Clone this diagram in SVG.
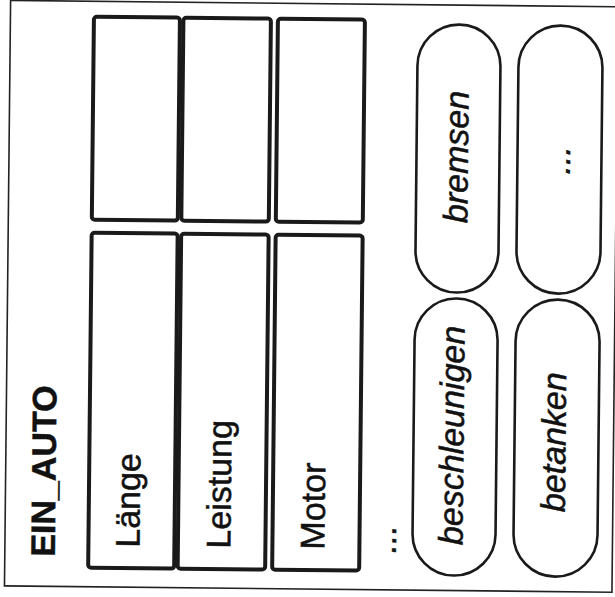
<svg xmlns="http://www.w3.org/2000/svg" width="615" height="597" viewBox="0 0 615 597">
<style>
  .frame{fill:none;stroke:#222;stroke-width:1.6}
  .attr{fill:#fff;stroke:#1a1a1a;stroke-width:4}
  .meth{fill:#fff;stroke:#1a1a1a;stroke-width:2.6}
  text{font-family:"Liberation Sans",Arial,sans-serif;font-size:34px;fill:#111;stroke:#111;stroke-width:0.5}
  .title{font-weight:bold}
  .it{font-style:italic}
</style>
<rect width="615" height="597" fill="#fff"/>
<g transform="rotate(0.6 307 298)">
  <g id="ein_auto">
    <rect class="frame" x="7.5" y="3.5" width="607.5" height="585.5"/>
    <text class="title" transform="translate(57.5 559.5) rotate(-90)">EIN_AUTO</text>
  </g>
  <g id="attr_top_1"><rect class="attr" x="91" y="19" width="86" height="203" rx="3"/></g>
  <g id="attr_top_2"><rect class="attr" x="180.5" y="19" width="87.5" height="203" rx="3"/></g>
  <g id="attr_top_3"><rect class="attr" x="275" y="19" width="87" height="203" rx="3"/></g>
  <g id="attr_laenge">
    <rect class="attr" x="91" y="235" width="86" height="335" rx="3"/>
    <text transform="translate(142 549.5) rotate(-90)">Länge</text>
  </g>
  <g id="attr_leistung">
    <rect class="attr" x="180.5" y="235" width="87.5" height="335" rx="3"/>
    <text transform="translate(233 549.5) rotate(-90)">Leistung</text>
  </g>
  <g id="attr_motor">
    <rect class="attr" x="275" y="235" width="87" height="335" rx="3"/>
    <text transform="translate(327 549.5) rotate(-90)">Motor</text>
  </g>
  <g id="more_attrs">
    <text transform="translate(398.5 554) rotate(-90)">...</text>
  </g>
  <g id="m_bremsen">
    <rect class="meth" x="415" y="23" width="83" height="268" rx="41.5"/>
    <text class="it" transform="translate(466.5 221.5) rotate(-90)">bremsen</text>
  </g>
  <g id="m_more">
    <rect class="meth" x="516" y="23" width="84" height="268" rx="42"/>
    <text class="it" transform="translate(568.5 172) rotate(-90)">...</text>
  </g>
  <g id="m_beschleunigen">
    <rect class="meth" x="415" y="297" width="83" height="277" rx="41.5"/>
    <text class="it" transform="translate(465 543.5) rotate(-90)">beschleunigen</text>
  </g>
  <g id="m_betanken">
    <rect class="meth" x="516" y="297" width="84" height="277" rx="42"/>
    <text class="it" transform="translate(567 509.5) rotate(-90)">betanken</text>
  </g>
  <g id="connectors"/>
</g>
</svg>
